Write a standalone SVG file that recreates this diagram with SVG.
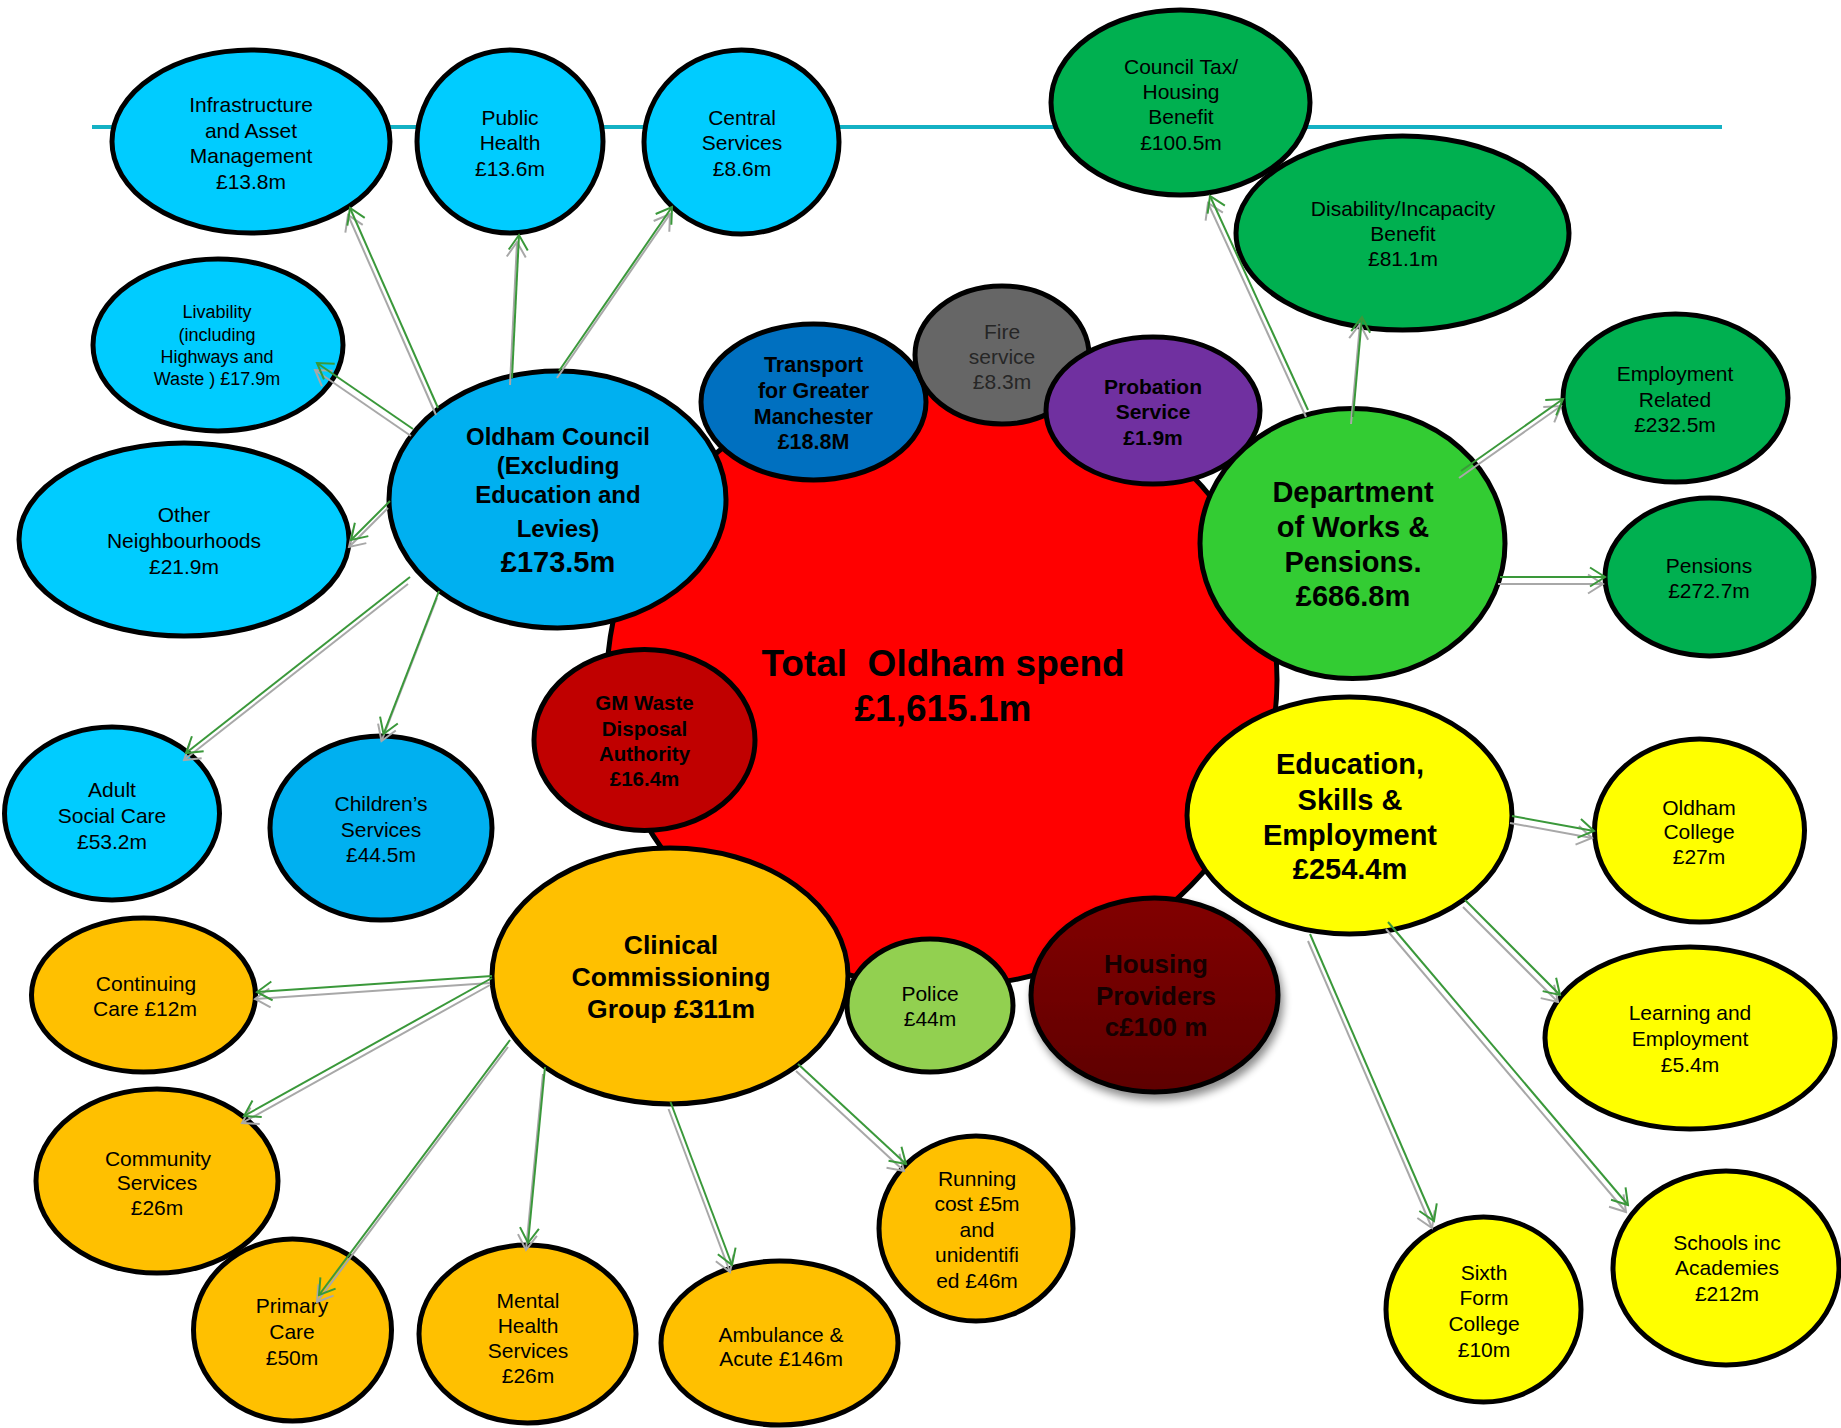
<svg xmlns="http://www.w3.org/2000/svg" width="1841" height="1428" viewBox="0 0 1841 1428">
<style>
text{font-family:"Liberation Sans",Arial,sans-serif;text-anchor:middle;dominant-baseline:central;fill:#000}
.n{stroke:#000;stroke-width:5}
.r{font-size:21px}
.s{font-size:18px}
.b{font-weight:bold}
.lb{fill:#00CCFF}.mb{fill:#00B0F0}.dg{fill:#00B050}.ye{fill:#FFFF00}.or{fill:#FFC000}
.ar{stroke:#3A983A;stroke-width:2;fill:none;marker-end:url(#aG)}
.sh{stroke:#A8A8A8;stroke-width:2;fill:none;marker-end:url(#aS)}
</style>
<defs>
<marker id="aG" viewBox="0 0 18 22" refX="16" refY="11" markerWidth="18" markerHeight="22" markerUnits="userSpaceOnUse" orient="auto"><path d="M1,1.5 L16,11 L1,20.5" fill="none" stroke="#3A983A" stroke-width="2"/></marker>
<marker id="aS" viewBox="0 0 18 22" refX="16" refY="11" markerWidth="18" markerHeight="22" markerUnits="userSpaceOnUse" orient="auto"><path d="M1,1.5 L16,11 L1,20.5" fill="none" stroke="#A8A8A8" stroke-width="2"/></marker>
<linearGradient id="hg" x1="0" y1="0" x2="0" y2="1"><stop offset="0" stop-color="#820000"/><stop offset="1" stop-color="#5E0000"/></linearGradient>
<filter id="ds" x="-20%" y="-20%" width="150%" height="150%"><feGaussianBlur in="SourceAlpha" stdDeviation="4"/><feOffset dx="3" dy="6" result="o"/><feComponentTransfer><feFuncA type="linear" slope="0.45"/></feComponentTransfer><feMerge><feMergeNode/><feMergeNode in="SourceGraphic"/></feMerge></filter>
</defs>

<line x1="92" y1="127" x2="1722" y2="127" stroke="#14B1C4" stroke-width="4"/>

<g id="total">
<ellipse class="n" cx="942" cy="680" rx="335" ry="307" fill="#FF0000"/>
<text class="b" font-size="37" x="943" y="663" xml:space="preserve">Total  Oldham spend</text>
<text class="b" font-size="37" x="943" y="708">£1,615.1m</text>
</g>

<g id="infrastructure"><ellipse class="n lb" cx="251" cy="141.5" rx="139" ry="91.5"/>
<text class="r" x="251" y="104.5">Infrastructure</text><text class="r" x="251" y="130">and Asset</text><text class="r" x="251" y="155">Management</text><text class="r" x="251" y="181">£13.8m</text></g>

<g id="public-health"><ellipse class="n lb" cx="510" cy="141.5" rx="93" ry="91.5"/>
<text class="r" x="510" y="117">Public</text><text class="r" x="510" y="142">Health</text><text class="r" x="510" y="168">£13.6m</text></g>

<g id="central-services"><ellipse class="n lb" cx="741.5" cy="142" rx="97.5" ry="92"/>
<text class="r" x="742" y="117">Central</text><text class="r" x="742" y="142">Services</text><text class="r" x="742" y="168">£8.6m</text></g>

<g id="livability"><ellipse class="n lb" cx="218" cy="345" rx="125" ry="86"/>
<text class="s" x="217" y="312">Livability</text><text class="s" x="217" y="334.5">(including</text><text class="s" x="217" y="357">Highways and</text><text class="s" x="217" y="379">Waste ) £17.9m</text></g>

<g id="other-neighbourhoods"><ellipse class="n lb" cx="184" cy="539.5" rx="165" ry="96.5"/>
<text class="r" x="184" y="514">Other</text><text class="r" x="184" y="540">Neighbourhoods</text><text class="r" x="184" y="566">£21.9m</text></g>

<g id="oldham-council"><ellipse class="n mb" cx="557.5" cy="499.5" rx="168.5" ry="128.5"/>
<text class="b" font-size="24" x="558" y="436">Oldham Council</text><text class="b" font-size="24" x="558" y="465">(Excluding</text><text class="b" font-size="24" x="558" y="494">Education and</text><text class="b" font-size="24" x="558" y="528">Levies)</text><text class="b" font-size="29" x="558" y="562">£173.5m</text></g>

<g id="adult-social-care"><ellipse class="n lb" cx="112" cy="813.5" rx="107.5" ry="86.5"/>
<text class="r" x="112" y="789">Adult</text><text class="r" x="112" y="815">Social Care</text><text class="r" x="112" y="841">£53.2m</text></g>

<g id="childrens-services"><ellipse class="n mb" cx="381" cy="828" rx="111" ry="92"/>
<text class="r" x="381" y="803">Children’s</text><text class="r" x="381" y="829">Services</text><text class="r" x="381" y="854">£44.5m</text></g>

<g id="transport"><ellipse class="n" cx="813.5" cy="402" rx="112.5" ry="78" fill="#0070C0"/>
<text class="b" font-size="21.5" x="813.5" y="365">Transport</text><text class="b" font-size="21.5" x="813.5" y="391">for Greater</text><text class="b" font-size="21.5" x="813.5" y="417">Manchester</text><text class="b" font-size="21.5" x="813.5" y="442">£18.8M</text></g>

<g id="fire-service"><ellipse class="n" cx="1002" cy="355" rx="87" ry="69" fill="#666666"/>
<text class="r" x="1002" y="331" style="fill:#262626">Fire</text><text class="r" x="1002" y="356" style="fill:#262626">service</text><text class="r" x="1002" y="381" style="fill:#262626">£8.3m</text></g>

<g id="probation"><ellipse class="n" cx="1153" cy="410.5" rx="107" ry="73.5" fill="#7030A0"/>
<text class="b" font-size="21" x="1153" y="386">Probation</text><text class="b" font-size="21" x="1153" y="411">Service</text><text class="b" font-size="21" x="1153" y="437">£1.9m</text></g>

<g id="gm-waste"><ellipse class="n" cx="644.5" cy="740" rx="110.5" ry="90.5" fill="#C00000"/>
<text class="b" font-size="20.5" x="644.5" y="702">GM Waste</text><text class="b" font-size="20.5" x="644.5" y="728">Disposal</text><text class="b" font-size="20.5" x="644.5" y="753">Authority</text><text class="b" font-size="20.5" x="644.5" y="778">£16.4m</text></g>

<g id="dwp"><ellipse class="n" cx="1352.5" cy="543.5" rx="152.5" ry="135" fill="#33CC33"/>
<text class="b" font-size="29" x="1353" y="492">Department</text><text class="b" font-size="29" x="1353" y="527">of Works &amp;</text><text class="b" font-size="29" x="1353" y="562">Pensions.</text><text class="b" font-size="29" x="1353" y="596">£686.8m</text></g>

<g id="council-tax"><ellipse class="n dg" cx="1180.5" cy="102.5" rx="129.5" ry="92.5"/>
<text class="r" x="1181" y="66">Council Tax/</text><text class="r" x="1181" y="91">Housing</text><text class="r" x="1181" y="116">Benefit</text><text class="r" x="1181" y="142">£100.5m</text></g>

<g id="disability"><ellipse class="n dg" cx="1402.5" cy="233" rx="166.5" ry="97"/>
<text class="r" x="1403" y="208">Disability/Incapacity</text><text class="r" x="1403" y="233">Benefit</text><text class="r" x="1403" y="258">£81.1m</text></g>

<g id="employment-related"><ellipse class="n dg" cx="1675.5" cy="398" rx="112.5" ry="84"/>
<text class="r" x="1675" y="373">Employment</text><text class="r" x="1675" y="399">Related</text><text class="r" x="1675" y="424">£232.5m</text></g>

<g id="pensions"><ellipse class="n dg" cx="1709.5" cy="577" rx="104.5" ry="79"/>
<text class="r" x="1709" y="565">Pensions</text><text class="r" x="1709" y="590">£272.7m</text></g>

<g id="education"><ellipse class="n ye" cx="1349.5" cy="815.5" rx="162.5" ry="118.5"/>
<text class="b" font-size="29" x="1350" y="764">Education,</text><text class="b" font-size="29" x="1350" y="800">Skills &amp;</text><text class="b" font-size="29" x="1350" y="835">Employment</text><text class="b" font-size="29" x="1350" y="869">£254.4m</text></g>

<g id="oldham-college"><ellipse class="n ye" cx="1699.5" cy="830.5" rx="105" ry="91.5"/>
<text class="r" x="1699" y="807">Oldham</text><text class="r" x="1699" y="831">College</text><text class="r" x="1699" y="856">£27m</text></g>

<g id="learning"><ellipse class="n ye" cx="1690" cy="1038" rx="145" ry="91"/>
<text class="r" x="1690" y="1012">Learning and</text><text class="r" x="1690" y="1038">Employment</text><text class="r" x="1690" y="1064">£5.4m</text></g>

<g id="schools"><ellipse class="n ye" cx="1726" cy="1268" rx="113" ry="97"/>
<text class="r" x="1727" y="1242">Schools inc</text><text class="r" x="1727" y="1267">Academies</text><text class="r" x="1727" y="1293">£212m</text></g>

<g id="sixth-form"><ellipse class="n ye" cx="1483.5" cy="1309.5" rx="97.5" ry="92.5"/>
<text class="r" x="1484" y="1272">Sixth</text><text class="r" x="1484" y="1297">Form</text><text class="r" x="1484" y="1323">College</text><text class="r" x="1484" y="1349">£10m</text></g>

<g id="ccg"><ellipse class="n or" cx="670" cy="976" rx="178" ry="128"/>
<text class="b" font-size="26.5" x="671" y="945">Clinical</text><text class="b" font-size="26.5" x="671" y="977">Commissioning</text><text class="b" font-size="26.5" x="671" y="1009">Group £311m</text></g>

<g id="housing"><ellipse class="n" cx="1154.5" cy="995" rx="123.5" ry="97" fill="url(#hg)" filter="url(#ds)"/>
<text class="b" font-size="26" x="1156" y="964" style="fill:#150000">Housing</text><text class="b" font-size="26" x="1156" y="996" style="fill:#150000">Providers</text><text class="b" font-size="26" x="1156" y="1027" style="fill:#150000">c£100 m</text></g>

<g id="police"><ellipse class="n" cx="930" cy="1005.5" rx="83" ry="66.5" fill="#92D050"/>
<text class="r" x="930" y="993">Police</text><text class="r" x="930" y="1018">£44m</text></g>

<g id="continuing-care"><ellipse class="n or" cx="143.5" cy="995" rx="112" ry="77"/>
<text class="r" x="146" y="983">Continuing</text><text class="r" x="145" y="1008.5">Care £12m</text></g>

<g id="community-services"><ellipse class="n or" cx="157" cy="1181" rx="121" ry="92"/>
<text class="r" x="158" y="1158">Community</text><text class="r" x="157" y="1182">Services</text><text class="r" x="157" y="1207">£26m</text></g>

<g id="primary-care"><ellipse class="n or" cx="292.5" cy="1330" rx="99" ry="91"/>
<text class="r" x="292" y="1305.5">Primary</text><text class="r" x="292" y="1331">Care</text><text class="r" x="292" y="1357">£50m</text></g>

<g id="mental-health"><ellipse class="n or" cx="527.5" cy="1334" rx="108.5" ry="89"/>
<text class="r" x="528" y="1300">Mental</text><text class="r" x="528" y="1325">Health</text><text class="r" x="528" y="1350">Services</text><text class="r" x="528" y="1375">£26m</text></g>

<g id="ambulance"><ellipse class="n or" cx="779.5" cy="1343" rx="118.5" ry="82"/>
<text class="r" x="781" y="1334">Ambulance &amp;</text><text class="r" x="781" y="1358">Acute £146m</text></g>

<g id="running-cost"><ellipse class="n or" cx="976" cy="1228.5" rx="97" ry="92.5"/>
<text class="r" x="977" y="1178">Running</text><text class="r" x="977" y="1203">cost £5m</text><text class="r" x="977" y="1229">and</text><text class="r" x="977" y="1254">unidentifi</text><text class="r" x="977" y="1280">ed £46m</text></g>

<g id="connectors">
<g transform="translate(-2,7)">
<path class="sh" d="M438,408 L350,208"/>
<path class="sh" d="M512,378 L519,235"/>
<path class="sh" d="M559,371 L672,207"/>
<path class="sh" d="M413,429 L317,363"/>
<path class="sh" d="M390,501 L351,540"/>
<path class="sh" d="M410,577 L186,753"/>
<path class="sh" d="M439,591 L383.5,734"/>
<path class="sh" d="M492,976 L257,992"/>
<path class="sh" d="M492,978 L244,1116"/>
<path class="sh" d="M510,1040 L319,1295"/>
<path class="sh" d="M545,1067 L528,1243"/>
<path class="sh" d="M670.5,1102 L732,1265"/>
<path class="sh" d="M798,1064 L906,1164"/>
<path class="sh" d="M1512,816 L1594,831"/>
<path class="sh" d="M1465,900 L1560,995"/>
<path class="sh" d="M1388,922 L1628,1205"/>
<path class="sh" d="M1310,934 L1434,1221"/>
<path class="sh" d="M1308,410 L1210,196"/>
<path class="sh" d="M1353,417 L1362,317"/>
<path class="sh" d="M1461,471 L1563,399"/>
<path class="sh" d="M1500,577 L1605,577"/>
</g>
<path class="ar" d="M438,408 L350,208"/>
<path class="ar" d="M512,378 L519,235"/>
<path class="ar" d="M559,371 L672,207"/>
<path class="ar" d="M413,429 L317,363"/>
<path class="ar" d="M390,501 L351,540"/>
<path class="ar" d="M410,577 L186,753"/>
<path class="ar" d="M439,591 L383.5,734"/>
<path class="ar" d="M492,976 L257,992"/>
<path class="ar" d="M492,978 L244,1116"/>
<path class="ar" d="M510,1040 L319,1295"/>
<path class="ar" d="M545,1067 L528,1243"/>
<path class="ar" d="M670.5,1102 L732,1265"/>
<path class="ar" d="M798,1064 L906,1164"/>
<path class="ar" d="M1512,816 L1594,831"/>
<path class="ar" d="M1465,900 L1560,995"/>
<path class="ar" d="M1388,922 L1628,1205"/>
<path class="ar" d="M1310,934 L1434,1221"/>
<path class="ar" d="M1308,410 L1210,196"/>
<path class="ar" d="M1353,417 L1362,317"/>
<path class="ar" d="M1461,471 L1563,399"/>
<path class="ar" d="M1500,577 L1605,577"/>
</g>
</svg>
